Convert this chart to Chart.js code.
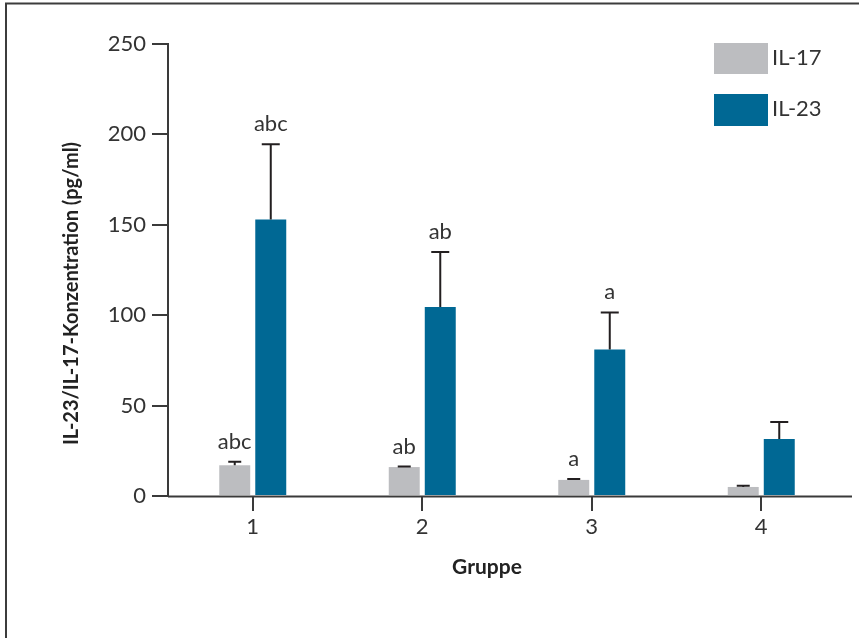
<!DOCTYPE html>
<html>
<head>
<meta charset="utf-8">
<script src="https://cdn.jsdelivr.net/npm/chart.js@4/dist/chart.umd.min.js"></script>
<style>
  html, body { margin: 0; padding: 0; background: #ffffff; }
  #wrap { width: 859px; height: 638px; position: relative; }
</style>
</head>
<body>
<div id="wrap"><canvas id="chart" width="859" height="638"></canvas></div>
<script>
// Groups on the x axis
const groups = ['1', '2', '3', '4'];
// Mean concentrations (pg/ml) and upper error (SD) per group
const il17 = [17, 16, 8.9, 5];
const il17Err = [2, 0.3, 0.5, 0.7];
const il23 = [153, 104.5, 81, 31.5];
const il23Err = [41.5, 30.5, 20.5, 9.4];
// Significance letters above each bar
const il17Letters = ['abc', 'ab', 'a', ''];
const il23Letters = ['abc', 'ab', 'a', ''];
// Axis setup
const yTicks = [0, 50, 100, 150, 200, 250];
const seriesNames = ['IL-17', 'IL-23'];
const xTitle = 'Gruppe';
const yTitle = 'IL-23/IL-17-Konzentration (pg/ml)';

const GRAY = '#bcbdc0';
const BLUE = '#006894';
const INK = '#333333';
const LINE = '#3a3a3a';
const FONT = 'Lato';

// Draws frame, error bars, letters, legend and axis titles
const decorations = {
  id: 'decorations',
  afterDatasetsDraw(chart) {
    const ctx = chart.ctx;
    const area = chart.chartArea;
    const yScale = chart.scales.y;
    const errs = [il17Err, il23Err];
    const letters = [il17Letters, il23Letters];
    const capW = [13, 18];

    ctx.save();
    // outer frame (open to the right and bottom)
    ctx.strokeStyle = '#3c3c3c';
    ctx.lineWidth = 2;
    ctx.strokeRect(6, 3.5, chart.width + 20, chart.height + 20);

    // x axis line, running slightly past the last category
    ctx.strokeStyle = LINE;
    ctx.lineWidth = 2;
    ctx.beginPath();
    ctx.moveTo(area.left, area.bottom + 0.5);
    ctx.lineTo(area.right + 6, area.bottom + 0.5);
    ctx.stroke();

    // error bars and letters
    chart.data.datasets.forEach((ds, di) => {
      const meta = chart.getDatasetMeta(di);
      meta.data.forEach((bar, i) => {
        const top = yScale.getPixelForValue(ds.data[i] + errs[di][i]);
        const x = bar.x;
        ctx.strokeStyle = '#231f20';
        ctx.lineWidth = 2;
        ctx.beginPath();
        ctx.moveTo(x, bar.y);
        ctx.lineTo(x, top);
        ctx.moveTo(x - capW[di] / 2, top);
        ctx.lineTo(x + capW[di] / 2, top);
        ctx.stroke();
        const t = letters[di][i];
        if (t) {
          ctx.fillStyle = INK;
          ctx.font = '22px ' + FONT;
          ctx.textAlign = 'center';
          ctx.textBaseline = 'alphabetic';
          ctx.fillText(t, x, top - 13);
        }
      });
    });

    // legend
    const boxes = [{ y: 43, h: 31 }, { y: 94, h: 32 }];
    chart.data.datasets.forEach((ds, di) => {
      ctx.fillStyle = ds.backgroundColor;
      ctx.fillRect(714, boxes[di].y, 54, boxes[di].h);
      ctx.fillStyle = INK;
      ctx.font = '22px ' + FONT;
      ctx.textAlign = 'left';
      ctx.textBaseline = 'alphabetic';
      ctx.fillText(ds.label, 772, boxes[di].y + 22);
    });

    // axis titles
    ctx.fillStyle = '#222222';
    ctx.font = 'bold 21px ' + FONT;
    ctx.textAlign = 'center';
    ctx.textBaseline = 'alphabetic';
    ctx.fillText(xTitle, 487, 574);
    ctx.font = 'bold 20px ' + FONT;
    ctx.translate(77.5, 293.5);
    ctx.rotate(-Math.PI / 2);
    ctx.fillText(yTitle, 0, 0);
    ctx.restore();
  }
};

function build() {
  new Chart(document.getElementById('chart'), {
    type: 'bar',
    data: {
      labels: groups,
      datasets: [
        { label: seriesNames[0], data: il17, backgroundColor: GRAY },
        { label: seriesNames[1], data: il23, backgroundColor: BLUE }
      ]
    },
    options: {
      responsive: false,
      animation: false,
      devicePixelRatio: 1,
      categoryPercentage: 0.425,
      barPercentage: 0.86,
      layout: { padding: { left: 0, top: 44, right: 13, bottom: 0 } },
      plugins: { legend: { display: false }, tooltip: { enabled: false } },
      scales: {
        x: {
          type: 'category',
          offset: true,
          border: { display: false },
          grid: { offset: false, drawOnChartArea: false, drawTicks: true, tickLength: 15, color: LINE, lineWidth: 2 },
          ticks: { color: INK, font: { family: FONT, size: 22 }, padding: 3, maxRotation: 0 },
          afterFit(scale) { scale.height = 142; }
        },
        y: {
          min: 0,
          max: 250,
          border: { display: true, color: LINE, width: 2 },
          grid: { drawOnChartArea: false, drawTicks: true, tickLength: 16, color: LINE, lineWidth: 2 },
          afterBuildTicks(scale) { scale.ticks = yTicks.map(v => ({ value: v })); },
          ticks: { color: INK, font: { family: FONT, size: 22 }, padding: 6 },
          afterFit(scale) { scale.width = 168; }
        }
      }
    },
    plugins: [decorations]
  });
}

if (document.fonts && document.fonts.load) {
  Promise.all([
    document.fonts.load('22px ' + FONT),
    document.fonts.load('bold 21px ' + FONT)
  ]).then(build, build);
} else {
  build();
}
</script>
</body>
</html>
